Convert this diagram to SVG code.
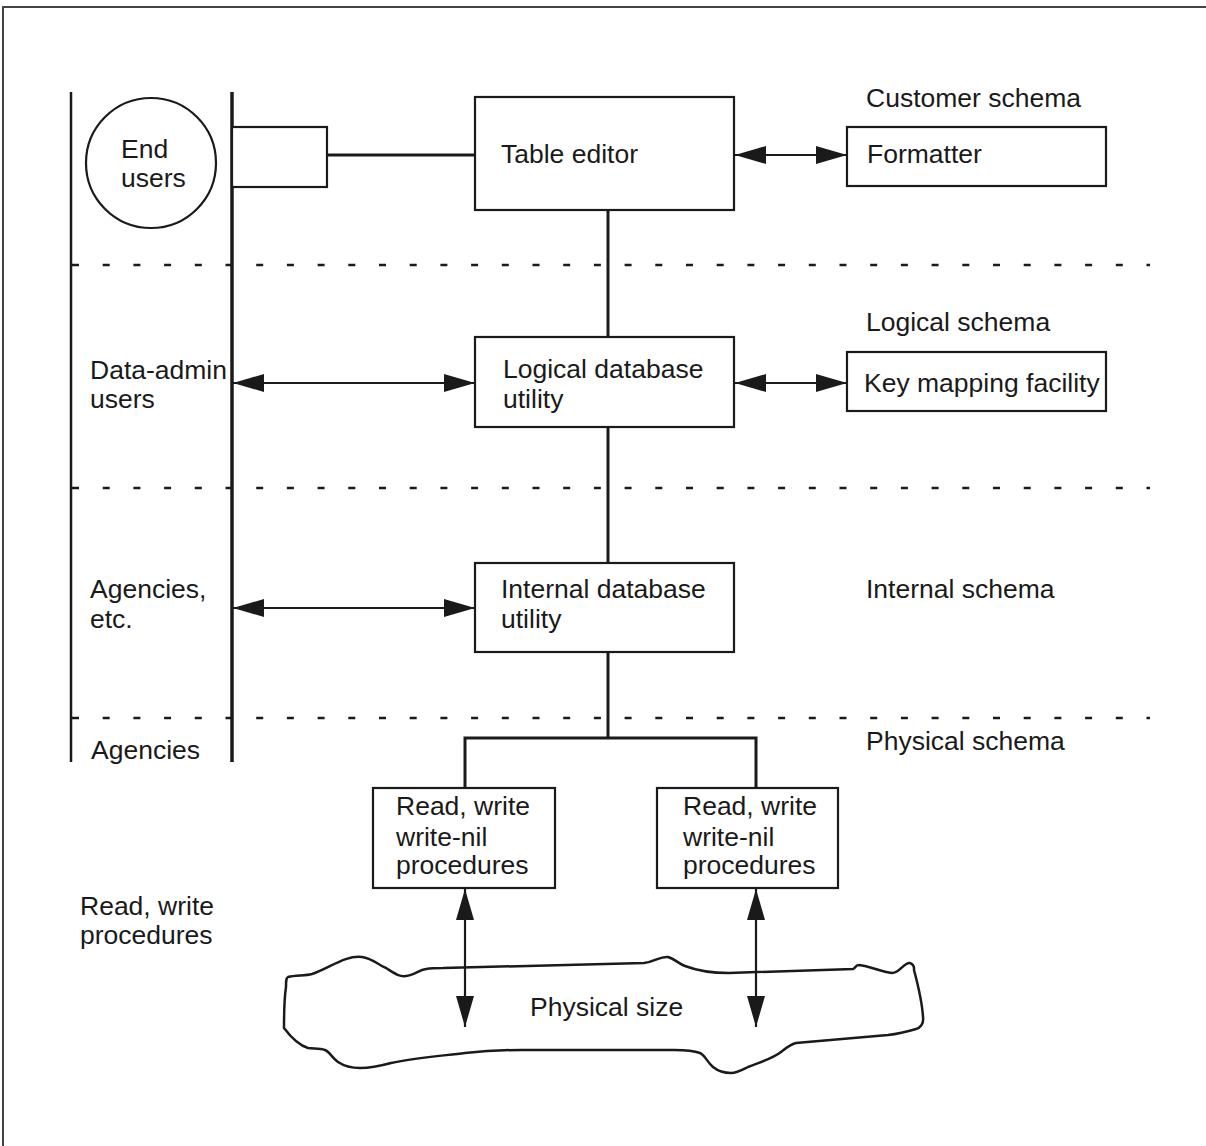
<svg xmlns="http://www.w3.org/2000/svg" width="1206" height="1146" viewBox="0 0 1206 1146">
<style>
.t{font-family:"Liberation Sans",Arial,sans-serif;font-size:26.5px;fill:#1a1a1a}
.box{fill:#fff;stroke:#1a1a1a;stroke-width:2.2}
.ln{fill:none;stroke:#1a1a1a;stroke-width:3}
.ar{fill:none;stroke:#1a1a1a;stroke-width:2.2}
.dash{fill:none;stroke:#1a1a1a;stroke-width:2.5;stroke-dasharray:7 23.7}
</style>
<defs>
<marker id="ah" viewBox="0 0 31 18" refX="31" refY="9" markerWidth="31" markerHeight="18" markerUnits="userSpaceOnUse" orient="auto-start-reverse">
<path d="M0,0 L31,9 L0,18 z" fill="#1a1a1a"/>
</marker>
</defs>
<rect width="1206" height="1146" fill="#fff"/>
<path d="M3,1146 V7 H1206" fill="none" stroke="#444" stroke-width="2"/>
<g id="lanes">
<line x1="71" y1="92" x2="71" y2="762" stroke="#1a1a1a" stroke-width="2.5"/>
<line x1="232" y1="92" x2="232" y2="762" stroke="#1a1a1a" stroke-width="3.5"/>
<line class="dash" x1="72" y1="265" x2="1150" y2="265"/>
<line class="dash" x1="72" y1="488" x2="1150" y2="488"/>
<line class="dash" x1="72" y1="718" x2="1150" y2="718"/>
</g>
<g id="labels">
<text class="t" x="866" y="107">Customer schema</text>
<text class="t" x="866" y="331">Logical schema</text>
<text class="t" x="866" y="598">Internal schema</text>
<text class="t" x="866" y="750">Physical schema</text>
<text class="t" x="90" y="379">Data-admin</text>
<text class="t" x="90" y="408">users</text>
<text class="t" x="90" y="598">Agencies,</text>
<text class="t" x="90" y="628">etc.</text>
<text class="t" x="91" y="759">Agencies</text>
<text class="t" x="80" y="915">Read, write</text>
<text class="t" x="80" y="944">procedures</text>
</g>
<g id="connectors">
<line class="ln" x1="327" y1="155" x2="475" y2="155"/>
<line class="ln" x1="608" y1="210" x2="608" y2="337"/>
<line class="ln" x1="608" y1="427" x2="608" y2="563"/>
<line class="ln" x1="608" y1="652" x2="608" y2="738"/>
<path class="ln" d="M465,788 V738 H756 V788"/>
<line class="ar" x1="735" y1="155" x2="847" y2="155" marker-start="url(#ah)" marker-end="url(#ah)"/>
<line class="ar" x1="233" y1="383" x2="475" y2="383" marker-start="url(#ah)" marker-end="url(#ah)"/>
<line class="ar" x1="735" y1="383" x2="847" y2="383" marker-start="url(#ah)" marker-end="url(#ah)"/>
<line class="ar" x1="233" y1="608" x2="475" y2="608" marker-start="url(#ah)" marker-end="url(#ah)"/>
<line class="ar" x1="465" y1="889" x2="465" y2="1027" marker-start="url(#ah)" marker-end="url(#ah)"/>
<line class="ar" x1="756" y1="889" x2="756" y2="1027" marker-start="url(#ah)" marker-end="url(#ah)"/>
</g>
<g id="end-users">
<circle cx="151" cy="163" r="65" fill="#fff" stroke="#1a1a1a" stroke-width="2.2"/>
<text class="t" x="121" y="158">End</text>
<text class="t" x="121" y="187">users</text>
</g>
<g id="interface">
<rect class="box" x="232" y="127" width="95" height="60"/>
</g>
<g id="table-editor">
<rect class="box" x="475" y="97" width="259" height="113"/>
<text class="t" x="501" y="163">Table editor</text>
</g>
<g id="formatter">
<rect class="box" x="847" y="127" width="259" height="59"/>
<text class="t" x="867" y="163">Formatter</text>
</g>
<g id="logical-db">
<rect class="box" x="475" y="337" width="259" height="90"/>
<text class="t" x="503" y="378">Logical database</text>
<text class="t" x="503" y="408">utility</text>
</g>
<g id="key-mapping">
<rect class="box" x="847" y="352" width="259" height="59"/>
<text class="t" x="864" y="392">Key mapping facility</text>
</g>
<g id="internal-db">
<rect class="box" x="475" y="563" width="259" height="89"/>
<text class="t" x="501" y="598">Internal database</text>
<text class="t" x="501" y="628">utility</text>
</g>
<g id="rw-left">
<rect class="box" x="373" y="788" width="182" height="100"/>
<text class="t" x="396" y="815">Read, write</text>
<text class="t" x="396" y="846">write-nil</text>
<text class="t" x="396" y="874">procedures</text>
</g>
<g id="rw-right">
<rect class="box" x="657" y="788" width="181" height="100"/>
<text class="t" x="683" y="815">Read, write</text>
<text class="t" x="683" y="846">write-nil</text>
<text class="t" x="683" y="874">procedures</text>
</g>
<g id="physical-size">
<path d="M288,977 C296,975 305,976 312,974 C330,968 345,955 362,957 C372,958 380,966 386,968 C394,973 399,977 406,976 C414,975 419,970 426,969 C432,968 437,968 443,968 L644,963 C655,962 660,956 668,957 C675,959 679,964 685,966 C698,971 712,973 729,973 L853,969 C856,968 855,965 859,965 C870,966 881,972 892,973 C900,973 904,962 910,963 C915,965 914,968 914,970 C918,985 922,1000 923,1017 C924,1024 920,1028 916,1029 C906,1032 897,1034 888,1035 L796,1043 C789,1045 785,1049 781,1052 C772,1059 758,1063 748,1067 C742,1070 737,1073 731,1073 C724,1073 718,1071 713,1067 C707,1062 705,1055 700,1053 C692,1050 683,1050 674,1050 L522,1050 C502,1050 483,1051 465,1053 C440,1056 414,1058 391,1063 C380,1066 370,1068 360,1068 C351,1068 344,1066 338,1062 C332,1058 330,1052 325,1050 C319,1048 313,1049 308,1048 C298,1045 290,1036 284,1028 C284,1014 284,1000 286,987 C286,981 286,978 288,977 Z" fill="none" stroke="#1a1a1a" stroke-width="2.5"/>
<text class="t" x="530" y="1016">Physical size</text>
</g>
</svg>
